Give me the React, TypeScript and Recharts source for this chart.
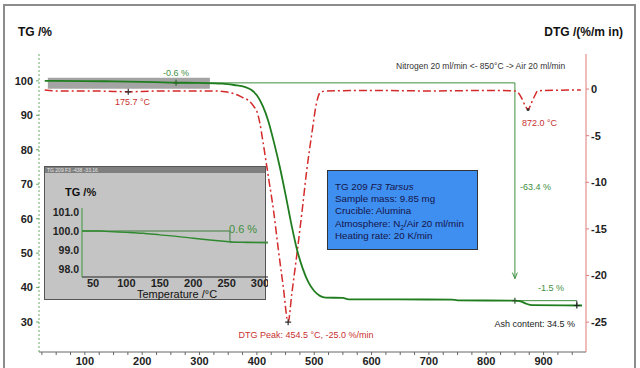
import React from "react";
import {
  LineChart,
  Line,
  XAxis,
  YAxis,
  ReferenceLine,
  ReferenceArea,
  ReferenceDot,
} from "recharts";

// TG curve (mass %) vs temperature (°C)
const tgTemps = [30, 50, 100, 150, 200, 250, 300, 340, 360, 380, 390, 400, 410, 420, 430, 440, 450, 460, 470, 480, 490, 500, 510, 520, 550, 560, 740, 750, 850, 860, 870, 880, 967];
const tgValues = [100.0, 100.0, 99.95, 99.85, 99.7, 99.5, 99.4, 99.2, 98.8, 98.2, 97.4, 95.8, 92.8, 88.3, 82.0, 75.0, 67.0, 58.5, 51.0, 45.5, 41.5, 39.0, 37.6, 37.1, 37.0, 36.6, 36.5, 36.3, 36.2, 36.0, 35.3, 34.9, 34.8];

// DTG curve (%/min) vs temperature (°C)
const dtgTemps = [30, 50, 100, 150, 175.7, 200, 250, 300, 330, 345, 360, 375, 385, 395, 400, 405, 411, 420, 429, 437, 446, 454.5, 461, 470, 479, 487, 496, 504, 510, 520, 600, 700, 800, 850, 856, 862, 868, 873, 878, 884, 890, 900, 965];
const dtgValues = [-0.1, -0.2, -0.2, -0.25, -0.3, -0.25, -0.2, -0.2, -0.2, -0.3, -0.5, -0.9, -1.2, -1.9, -2.4, -3.6, -5.8, -9.4, -13.0, -17.0, -21.2, -25.0, -21.9, -17.6, -13.0, -8.7, -4.7, -1.5, -0.4, -0.2, -0.15, -0.2, -0.15, -0.2, -0.4, -1.0, -1.8, -2.2, -1.6, -0.8, -0.2, -0.15, -0.1];

// Inset: TG zoom 30..310 °C
const insetTemps = [33, 60, 75, 100, 125, 150, 175, 200, 225, 250, 260, 280, 312];
const insetValues = [100.0, 100.0, 99.97, 99.93, 99.88, 99.8, 99.72, 99.62, 99.53, 99.45, 99.42, 99.4, 99.38];

// ticks
const xTicks = Array.from({ length: 38 }, (_, i) => 25 + i * 25);
const tgTicks = [30, 40, 50, 60, 70, 80, 90, 100];
const dtgTicks = [-25, -20, -15, -10, -5, 0];
const insetXTicks = [50, 100, 150, 200, 250, 300];
const insetYTicks = [98, 99, 100, 101];

// evaluated steps / peaks
const step1 = { start: 259, level: 99.42 };
const step2 = { start: 850, end: 958, level: 36.2, final: 34.8, arrowEnd: 42.6 };
const dtgMin = { t: 175.7, v: -0.3 };
const dtgPeak = { t: 454.5, v: -25.0 };
const dtgPeak2 = { t: 873, v: -2.2 };

const tgData = tgTemps.map((t, i) => ({ t, v: tgValues[i] }));
const dtgData = dtgTemps.map((t, i) => ({ t, v: dtgValues[i] }));
const insetData = insetTemps.map((t, i) => ({ t, v: insetValues[i] }));

const GREEN = "#1f7d1f";
const RED = "#d42a2a";
const TXT_GREEN = "#3f8f3f";
const TXT_RED = "#c83030";
const FONT = "'Liberation Sans', Arial, sans-serif";

const tickStyle = { fill: "#222", fontSize: 11, fontWeight: "bold" as const };

const plus = (color: string) => (props: any) => (
  <path
    d={`M${props.cx - 3},${props.cy}H${props.cx + 3}M${props.cx},${props.cy - 3}V${props.cy + 3}`}
    stroke={color}
    strokeWidth={1.2}
  />
);

const arrowDown = (props: any) => (
  <path
    d={`M${props.cx - 2.5},${props.cy - 6}L${props.cx},${props.cy}L${props.cx + 2.5},${props.cy - 6}`}
    stroke={TXT_GREEN}
    fill="none"
    strokeWidth={1}
  />
);

const App = () => {
  return (
    <div
      style={{
        position: "absolute",
        left: 0,
        top: 0,
        width: 640,
        height: 368,
        overflow: "hidden",
        background: "#fff",
        fontFamily: FONT,
      }}
    >
      <div
        style={{
          position: "absolute",
          left: 3,
          top: 4,
          width: 633,
          height: 420,
          border: "2px solid #8c8c8c",
          boxSizing: "border-box",
        }}
      />
      <div style={{ position: "absolute", left: 0, top: 0 }}>
        <LineChart width={640} height={368} margin={{ top: 54, right: 0, left: 0, bottom: 0 }}>
          <XAxis
            dataKey="t"
            type="number"
            domain={[20, 974]}
            ticks={xTicks}
            allowDataOverflow
            height={16}
            tickSize={3}
            tickMargin={2}
            interval={0}
            tickFormatter={(v: number) => (v % 100 === 0 ? String(v) : "")}
            tick={tickStyle}
            axisLine={{ stroke: "#666" }}
            tickLine={{ stroke: "#666" }}
          />
          <YAxis
            yAxisId="tg"
            type="number"
            domain={[21.3, 107.8]}
            ticks={tgTicks}
            allowDataOverflow
            width={39}
            tickSize={3}
            tickMargin={3}
            tick={tickStyle}
            axisLine={{ stroke: "#6aaa6a", strokeDasharray: "2 2" }}
            tickLine={{ stroke: "#6aaa6a" }}
          />
          <YAxis
            yAxisId="dtg"
            orientation="right"
            type="number"
            domain={[-28.2, 3.76]}
            ticks={dtgTicks}
            allowDataOverflow
            width={54}
            tickSize={3}
            tickMargin={2}
            tick={tickStyle}
            axisLine={{ stroke: "#e07a7a" }}
            tickLine={{ stroke: "#e07a7a" }}
          />
          <ReferenceArea
            yAxisId="tg"
            x1={35.4}
            x2={318}
            y1={97.7}
            y2={100.9}
            fill="#a4a4a4"
            fillOpacity={1}
            stroke="none"
          />
          <ReferenceLine
            yAxisId="tg"
            segment={[{ x: step1.start, y: step1.level }, { x: step2.start, y: step1.level }]}
            stroke={TXT_GREEN}
            strokeWidth={1}
          />
          <ReferenceLine
            yAxisId="tg"
            segment={[{ x: step2.start, y: step1.level }, { x: step2.start, y: step2.arrowEnd }]}
            stroke={TXT_GREEN}
            strokeWidth={1}
          />
          <ReferenceLine
            yAxisId="tg"
            segment={[{ x: step2.start, y: step2.level }, { x: step2.end, y: step2.level }]}
            stroke={TXT_GREEN}
            strokeWidth={1}
          />
          <ReferenceLine
            yAxisId="tg"
            segment={[{ x: step2.end, y: step2.level }, { x: step2.end, y: step2.final }]}
            stroke="#333"
            strokeWidth={1}
          />
          <Line
            yAxisId="dtg"
            data={dtgData}
            dataKey="v"
            type="monotone"
            stroke={RED}
            strokeWidth={1.5}
            strokeDasharray="8 3 2 3"
            dot={false}
            isAnimationActive={false}
          />
          <Line
            yAxisId="tg"
            data={tgData}
            dataKey="v"
            type="monotone"
            stroke={GREEN}
            strokeWidth={1.8}
            dot={false}
            isAnimationActive={false}
          />
          <ReferenceDot yAxisId="tg" x={step2.start} y={step2.arrowEnd} r={3} shape={arrowDown} />
          <ReferenceDot yAxisId="tg" x={step1.start} y={step1.level} r={3} shape={plus("#2a6a2a")} />
          <ReferenceDot yAxisId="tg" x={step2.start} y={step2.level} r={3} shape={plus("#2a5a2a")} />
          <ReferenceDot yAxisId="tg" x={step2.end} y={step2.final} r={3} shape={plus("#222")} />
          <ReferenceDot yAxisId="dtg" x={dtgMin.t} y={dtgMin.v} r={3} shape={plus("#333")} />
          <ReferenceDot yAxisId="dtg" x={dtgPeak.t} y={dtgPeak.v} r={3} shape={plus("#333")} />
          <ReferenceDot yAxisId="dtg" x={dtgPeak2.t} y={dtgPeak2.v} r={1.5} fill="#333" stroke="none" />
        </LineChart>
      </div>

      {/* inset */}
      <div
        style={{
          position: "absolute",
          left: 44,
          top: 166,
          width: 222,
          height: 134,
          background: "#c4c4c4",
          border: "1px solid #555",
          boxSizing: "border-box",
        }}
      >
        <div
          style={{
            height: 6,
            background: "#7f7f7f",
            color: "#e8e8e8",
            fontSize: 5,
            lineHeight: "6px",
            paddingLeft: 2,
            overflow: "hidden",
            whiteSpace: "nowrap",
          }}
        >
          TG 209 F3 -438 -33.16
        </div>
      </div>
      <div style={{ position: "absolute", left: 44, top: 166 }}>
        <LineChart width={224} height={134} margin={{ top: 42, right: 0, left: 0, bottom: 11 }}>
          <XAxis
            dataKey="t"
            type="number"
            domain={[33.5, 312]}
            ticks={insetXTicks}
            allowDataOverflow
            height={12}
            tickSize={0}
            tickMargin={2}
            interval={0}
            tick={tickStyle}
            axisLine={{ stroke: "#222" }}
            tickLine={false}
          />
          <YAxis
            type="number"
            domain={[97.6, 101.2]}
            ticks={insetYTicks}
            allowDataOverflow
            width={38}
            tickSize={0}
            tickMargin={3}
            tick={{ ...tickStyle, fontSize: 10.5 }}
            tickFormatter={(v: number) => v.toFixed(1)}
            axisLine={{ stroke: "#3a9a3a" }}
            tickLine={false}
          />
          <ReferenceLine
            segment={[{ x: 33.5, y: 100 }, { x: 255, y: 100 }]}
            stroke="#3d7d3d"
            strokeWidth={1}
          />
          <ReferenceLine
            segment={[{ x: 255, y: 100 }, { x: 255, y: 99.45 }]}
            stroke="#3d7d3d"
            strokeWidth={1}
          />
          <ReferenceLine
            segment={[{ x: 255, y: 99.42 }, { x: 312, y: 99.42 }]}
            stroke="#3d7d3d"
            strokeWidth={1}
          />
          <Line
            data={insetData}
            dataKey="v"
            type="monotone"
            stroke="#2f8a2f"
            strokeWidth={1.4}
            dot={false}
            isAnimationActive={false}
          />
        </LineChart>
      </div>

      {/* info box */}
      <div
        style={{
          position: "absolute",
          left: 327,
          top: 170,
          width: 151,
          height: 80,
          background: "#3f8ff0",
          border: "1px solid #333",
          boxSizing: "border-box",
          padding: "10px 0 0 7px",
          fontSize: 9.8,
          lineHeight: "12.2px",
          color: "#15154a",
          whiteSpace: "nowrap",
          overflow: "hidden",
        }}
      >
        <div>
          TG 209 <i>F3 Tarsus</i>
        </div>
        <div>Sample mass: 9.85 mg</div>
        <div>Crucible: Alumina</div>
        <div>
          Atmosphere: N<sub style={{ fontSize: 6.5, lineHeight: 0 }}>2</sub>/Air 20 ml/min
        </div>
        <div>Heating rate: 20 K/min</div>
      </div>

      {/* text overlay */}
      <svg
        width={640}
        height={368}
        style={{ position: "absolute", left: 0, top: 0, pointerEvents: "none" }}
        fontFamily={FONT}
      >
        <text x={18} y={36} fontSize={12} fontWeight="bold" fill="#111">TG /%</text>
        <text x={623} y={36} fontSize={12} fontWeight="bold" fill="#111" textAnchor="end">DTG /(%/m in)</text>
        <text x={396} y={69} fontSize={8.5} fill="#333">Nitrogen 20 ml/min &lt;- 850°C -&gt; Air 20 ml/min</text>
        <text x={163} y={76} fontSize={9} fill={TXT_GREEN}>-0.6 %</text>
        <text x={115} y={105} fontSize={9} fill={TXT_RED}>175.7 °C</text>
        <text x={522} y={126} fontSize={9} fill={TXT_RED}>872.0 °C</text>
        <text x={520} y={190} fontSize={9} fill={TXT_GREEN}>-63.4 %</text>
        <text x={538} y={291} fontSize={9} fill={TXT_GREEN}>-1.5 %</text>
        <text x={575} y={327} fontSize={9} fill="#222" textAnchor="end">Ash content: 34.5 %</text>
        <text x={306} y={338} fontSize={9} fill={TXT_RED} textAnchor="middle">DTG Peak: 454.5 °C, -25.0 %/min</text>
        <text x={65} y={196} fontSize={11} fontWeight="bold" fill="#111">TG /%</text>
        <text x={177} y={298} fontSize={11} fill="#111" textAnchor="middle">Temperature /°C</text>
        <text x={229} y={233} fontSize={11} fill={TXT_GREEN}>0.6 %</text>
      </svg>
    </div>
  );
};

export default App;
